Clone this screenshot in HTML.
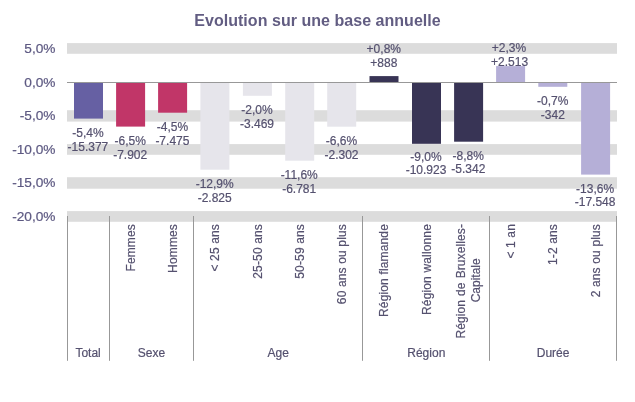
<!DOCTYPE html>
<html lang="fr"><head><meta charset="utf-8"><title>Evolution sur une base annuelle</title>
<style>html,body{margin:0;padding:0;background:#fff}body{width:635px;height:402px;overflow:hidden}svg{display:block}text{font-family:"Liberation Sans",Arial,sans-serif}</style></head><body>
<svg width="635" height="402" viewBox="0 0 635 402">
<rect width="635" height="402" fill="#fff"/>
<text x="317.5" y="25.8" text-anchor="middle" font-size="16" font-weight="bold" letter-spacing="0.035" fill="#625d82">Evolution sur une base annuelle</text>
<rect x="67.0" y="43.1" width="550.0" height="10.7" fill="#dcdcdc"/>
<rect x="67.0" y="110.2" width="550.0" height="11.4" fill="#dcdcdc"/>
<rect x="67.0" y="144.1" width="550.0" height="10.7" fill="#dcdcdc"/>
<rect x="67.0" y="177.2" width="550.0" height="11.5" fill="#dcdcdc"/>
<rect x="67.0" y="211.1" width="550.0" height="10.7" fill="#dcdcdc"/>
<rect x="74.00" y="82.5" width="29.0" height="36.1" fill="#6660a3"/>
<rect x="116.10" y="82.5" width="29.0" height="44.1" fill="#c13668"/>
<rect x="158.10" y="82.5" width="29.0" height="30.2" fill="#c13668"/>
<rect x="200.40" y="82.5" width="29.0" height="87.2" fill="#e6e5eb"/>
<rect x="242.90" y="82.5" width="29.0" height="13.3" fill="#e6e5eb"/>
<rect x="285.20" y="82.5" width="29.0" height="78.2" fill="#e6e5eb"/>
<rect x="327.20" y="82.5" width="29.0" height="44.2" fill="#e6e5eb"/>
<rect x="369.50" y="76.1" width="29.0" height="5.9" fill="#383455"/>
<rect x="412.00" y="82.5" width="29.0" height="61.3" fill="#383455"/>
<rect x="454.10" y="82.5" width="29.0" height="59.2" fill="#383455"/>
<rect x="496.10" y="66.1" width="29.0" height="15.9" fill="#b5afd7"/>
<rect x="538.30" y="82.5" width="29.0" height="4.3" fill="#b5afd7"/>
<rect x="581.10" y="82.5" width="29.0" height="92.1" fill="#b5afd7"/>
<rect x="67.0" y="82" width="550.0" height="1" fill="#989898"/>
<text x="55.5" y="53.0" text-anchor="end" font-size="13.7" fill="#5d5982" stroke="#5d5982" stroke-width="0.2">5,0%</text>
<text x="55.5" y="86.6" text-anchor="end" font-size="13.7" fill="#5d5982" stroke="#5d5982" stroke-width="0.2">0,0%</text>
<text x="55.5" y="120.4" text-anchor="end" font-size="13.7" fill="#5d5982" stroke="#5d5982" stroke-width="0.2">-5,0%</text>
<text x="55.5" y="154.0" text-anchor="end" font-size="13.7" fill="#5d5982" stroke="#5d5982" stroke-width="0.2">-10,0%</text>
<text x="55.5" y="187.4" text-anchor="end" font-size="13.7" fill="#5d5982" stroke="#5d5982" stroke-width="0.2">-15,0%</text>
<text x="55.5" y="221.0" text-anchor="end" font-size="13.7" fill="#5d5982" stroke="#5d5982" stroke-width="0.2">-20,0%</text>
<text x="87.9" y="136.8" text-anchor="middle" font-size="12" fill="#55516f" stroke="#55516f" stroke-width="0.2">-5,4%</text>
<text x="87.9" y="150.5" text-anchor="middle" font-size="12" fill="#55516f" stroke="#55516f" stroke-width="0.2">-15.377</text>
<text x="130.2" y="144.9" text-anchor="middle" font-size="12" fill="#55516f" stroke="#55516f" stroke-width="0.2">-6,5%</text>
<text x="130.2" y="158.6" text-anchor="middle" font-size="12" fill="#55516f" stroke="#55516f" stroke-width="0.2">-7.902</text>
<text x="172.4" y="130.8" text-anchor="middle" font-size="12" fill="#55516f" stroke="#55516f" stroke-width="0.2">-4,5%</text>
<text x="172.4" y="144.5" text-anchor="middle" font-size="12" fill="#55516f" stroke="#55516f" stroke-width="0.2">-7.475</text>
<text x="214.7" y="187.8" text-anchor="middle" font-size="12" fill="#55516f" stroke="#55516f" stroke-width="0.2">-12,9%</text>
<text x="214.7" y="201.5" text-anchor="middle" font-size="12" fill="#55516f" stroke="#55516f" stroke-width="0.2">-2.825</text>
<text x="257.0" y="113.9" text-anchor="middle" font-size="12" fill="#55516f" stroke="#55516f" stroke-width="0.2">-2,0%</text>
<text x="257.0" y="127.6" text-anchor="middle" font-size="12" fill="#55516f" stroke="#55516f" stroke-width="0.2">-3.469</text>
<text x="299.2" y="178.8" text-anchor="middle" font-size="12" fill="#55516f" stroke="#55516f" stroke-width="0.2">-11,6%</text>
<text x="299.2" y="192.5" text-anchor="middle" font-size="12" fill="#55516f" stroke="#55516f" stroke-width="0.2">-6.781</text>
<text x="341.5" y="144.8" text-anchor="middle" font-size="12" fill="#55516f" stroke="#55516f" stroke-width="0.2">-6,6%</text>
<text x="341.5" y="158.5" text-anchor="middle" font-size="12" fill="#55516f" stroke="#55516f" stroke-width="0.2">-2.302</text>
<text x="383.8" y="52.8" text-anchor="middle" font-size="12" fill="#55516f" stroke="#55516f" stroke-width="0.2">+0,8%</text>
<text x="383.8" y="66.5" text-anchor="middle" font-size="12" fill="#55516f" stroke="#55516f" stroke-width="0.2">+888</text>
<text x="426.0" y="160.7" text-anchor="middle" font-size="12" fill="#55516f" stroke="#55516f" stroke-width="0.2">-9,0%</text>
<text x="426.0" y="174.4" text-anchor="middle" font-size="12" fill="#55516f" stroke="#55516f" stroke-width="0.2">-10.923</text>
<text x="468.3" y="159.6" text-anchor="middle" font-size="12" fill="#55516f" stroke="#55516f" stroke-width="0.2">-8,8%</text>
<text x="468.3" y="173.3" text-anchor="middle" font-size="12" fill="#55516f" stroke="#55516f" stroke-width="0.2">-5.342</text>
<text x="509.0" y="51.8" text-anchor="middle" font-size="12" fill="#55516f" stroke="#55516f" stroke-width="0.2">+2,3%</text>
<text x="509.6" y="65.5" text-anchor="middle" font-size="12" fill="#55516f" stroke="#55516f" stroke-width="0.2">+2.513</text>
<text x="552.8" y="104.9" text-anchor="middle" font-size="12" fill="#55516f" stroke="#55516f" stroke-width="0.2">-0,7%</text>
<text x="552.8" y="118.6" text-anchor="middle" font-size="12" fill="#55516f" stroke="#55516f" stroke-width="0.2">-342</text>
<text x="595.1" y="192.5" text-anchor="middle" font-size="12" fill="#55516f" stroke="#55516f" stroke-width="0.2">-13,6%</text>
<text x="595.1" y="206.2" text-anchor="middle" font-size="12" fill="#55516f" stroke="#55516f" stroke-width="0.2">-17.548</text>
<rect x="67.0" y="216" width="1" height="144.8" fill="#989898"/>
<rect x="109.0" y="216" width="1" height="144.8" fill="#989898"/>
<rect x="193.0" y="216" width="1" height="144.8" fill="#989898"/>
<rect x="362.0" y="216" width="1" height="144.8" fill="#989898"/>
<rect x="489.0" y="216" width="1" height="144.8" fill="#989898"/>
<rect x="616.0" y="216" width="1" height="144.8" fill="#989898"/>
<text transform="translate(134.7,224) rotate(-90)" text-anchor="end" font-size="12" letter-spacing="0.15" fill="#55516f" stroke="#55516f" stroke-width="0.2">Femmes</text>
<text transform="translate(177.0,224) rotate(-90)" text-anchor="end" font-size="12" letter-spacing="0.15" fill="#55516f" stroke="#55516f" stroke-width="0.2">Hommes</text>
<text transform="translate(219.2,224) rotate(-90)" text-anchor="end" font-size="12" letter-spacing="0.15" fill="#55516f" stroke="#55516f" stroke-width="0.2">< 25 ans</text>
<text transform="translate(261.5,224) rotate(-90)" text-anchor="end" font-size="12" letter-spacing="0.15" fill="#55516f" stroke="#55516f" stroke-width="0.2">25-50 ans</text>
<text transform="translate(303.8,224) rotate(-90)" text-anchor="end" font-size="12" letter-spacing="0.15" fill="#55516f" stroke="#55516f" stroke-width="0.2">50-59 ans</text>
<text transform="translate(346.1,224) rotate(-90)" text-anchor="end" font-size="12" letter-spacing="0.15" fill="#55516f" stroke="#55516f" stroke-width="0.2">60 ans ou plus</text>
<text transform="translate(388.3,224) rotate(-90)" text-anchor="end" font-size="12" letter-spacing="0.15" fill="#55516f" stroke="#55516f" stroke-width="0.2">Région flamande</text>
<text transform="translate(430.6,224) rotate(-90)" text-anchor="end" font-size="12" letter-spacing="0.15" fill="#55516f" stroke="#55516f" stroke-width="0.2">Région wallonne</text>
<text transform="translate(465.4,281.3) rotate(-90)" text-anchor="middle" font-size="12" fill="#55516f" letter-spacing="0.1" word-spacing="0.6" stroke="#55516f" stroke-width="0.2">Région de Bruxelles-</text>
<text transform="translate(479.5,280.3) rotate(-90)" text-anchor="middle" font-size="12" fill="#55516f" stroke="#55516f" stroke-width="0.2">Capitale</text>
<text transform="translate(515.1,224) rotate(-90)" text-anchor="end" font-size="12" letter-spacing="0.15" fill="#55516f" stroke="#55516f" stroke-width="0.2">< 1 an</text>
<text transform="translate(557.4,224) rotate(-90)" text-anchor="end" font-size="12" letter-spacing="0.15" fill="#55516f" stroke="#55516f" stroke-width="0.2">1-2 ans</text>
<text transform="translate(599.7,224) rotate(-90)" text-anchor="end" font-size="12" letter-spacing="0.15" fill="#55516f" stroke="#55516f" stroke-width="0.2">2 ans ou plus</text>
<text x="88.1" y="356.6" text-anchor="middle" font-size="12" fill="#55516f" stroke="#55516f" stroke-width="0.2">Total</text>
<text x="151.5" y="356.6" text-anchor="middle" font-size="12" fill="#55516f" stroke="#55516f" stroke-width="0.2">Sexe</text>
<text x="278.3" y="356.6" text-anchor="middle" font-size="12" fill="#55516f" stroke="#55516f" stroke-width="0.2">Age</text>
<text x="426.3" y="356.6" text-anchor="middle" font-size="12" fill="#55516f" stroke="#55516f" stroke-width="0.2">Région</text>
<text x="553.1" y="356.6" text-anchor="middle" font-size="12" fill="#55516f" stroke="#55516f" stroke-width="0.2">Durée</text>
</svg></body></html>
